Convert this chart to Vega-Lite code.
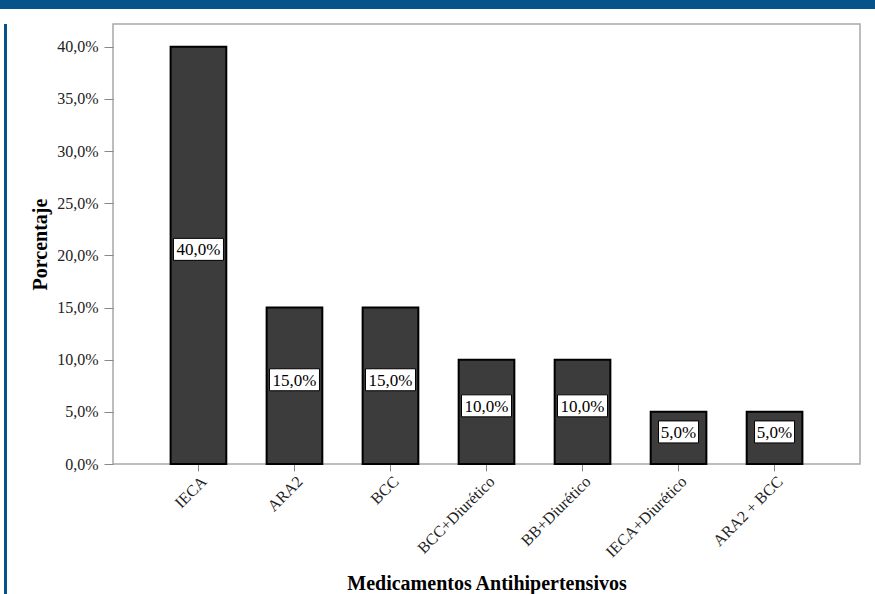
{
  "$schema": "https://vega.github.io/schema/vega-lite/v6.json",
  "padding": 0,
  "background": "white",
  "spacing": 0,
  "config": {
    "font": "Liberation Serif",
    "axis": {"labelFont": "Liberation Serif", "titleFont": "Liberation Serif"},
    "text": {"font": "Liberation Serif"},
    "locale": {"number": {"decimal": ",", "thousands": ".", "grouping": [3], "currency": ["", " €"]}},
    "view": {"stroke": null}
  },
  "vconcat": [
    {
      "width": 875,
      "height": 9,
      "view": {"fill": "#07528a", "stroke": null},
      "data": {"values": [{}]},
      "mark": {"type": "point", "opacity": 0, "size": 0},
      "encoding": {}
    },
    {
      "spacing": 22,
      "hconcat": [
        {
          "spacing": 0,
          "hconcat": [
            {
              "width": 4,
              "height": 585,
              "view": {"fill": "white", "stroke": null},
              "data": {"values": [{}]},
              "mark": {"type": "point", "opacity": 0, "size": 0},
              "encoding": {}
            },
            {
              "width": 3,
              "height": 585,
              "view": {"fill": "#07528a", "stroke": null},
              "data": {"values": [{}]},
              "mark": {"type": "point", "opacity": 0, "size": 0},
              "encoding": {}
            }
          ]
        },
        {
          "width": 747,
          "height": 440,
          "title": {"text": " ", "fontSize": 10, "offset": 4, "anchor": "start"},
          "view": {"stroke": "#a8a8a8", "strokeWidth": 1.5, "fill": "white"},
          "data": {
            "values": [
              {"med": "IECA", "value": 0.40},
              {"med": "ARA2", "value": 0.15},
              {"med": "BCC", "value": 0.15},
              {"med": "BCC+Diurético", "value": 0.10},
              {"med": "BB+Diurético", "value": 0.10},
              {"med": "IECA+Diurético", "value": 0.05},
              {"med": "ARA2 + BCC", "value": 0.05}
            ]
          },
          "encoding": {
            "x": {
              "field": "med",
              "type": "nominal",
              "sort": null,
              "title": "Medicamentos Antihipertensivos",
              "scale": {"paddingInner": 0.42, "paddingOuter": 0.6},
              "axis": {
                "labelAngle": -45,
                "labelFont": "Liberation Serif",
                "labelFontSize": 16,
                "labelColor": "#222",
                "labelPadding": 2,
                "tickSize": 7,
                "tickColor": "#888",
                "domain": false,
                "titleFont": "Liberation Serif",
                "titleFontSize": 20,
                "titleFontWeight": "bold",
                "titleColor": "black",
                "titlePadding": 14
              }
            }
          },
          "layer": [
            {
              "mark": {"type": "bar", "fill": "#3c3c3c", "stroke": "black", "strokeWidth": 2},
              "encoding": {
                "y": {
                  "field": "value",
                  "type": "quantitative",
                  "title": "Porcentaje",
                  "scale": {"domain": [0, 0.4218], "nice": false},
                  "axis": {
                    "values": [0, 0.05, 0.1, 0.15, 0.2, 0.25, 0.3, 0.35, 0.4],
                    "format": ".1%",
                    "grid": false,
                    "domain": false,
                    "tickSize": 9,
                    "tickColor": "#888",
                    "labelPadding": 6,
                    "labelFont": "Liberation Serif",
                    "labelFontSize": 16,
                    "labelColor": "#222",
                    "titleFont": "Liberation Serif",
                    "titleFontSize": 20,
                    "titleFontWeight": "bold",
                    "titleColor": "black",
                    "titlePadding": 6
                  }
                }
              }
            },
            {
              "transform": [{"calculate": "datum.value / 2", "as": "mid"}],
              "mark": {"type": "point", "filled": true, "fill": "white", "stroke": "black", "strokeWidth": 1, "opacity": 1, "yOffset": -6},
              "encoding": {
                "y": {"field": "mid", "type": "quantitative", "title": "Porcentaje"},
                "shape": {"condition": {"test": "datum.value < 0.1", "value": "M-1,-0.55H1V0.55H-1Z"}, "value": "M-1,-0.44H1V0.44H-1Z"},
                "size": {"condition": {"test": "datum.value < 0.1", "value": 1600}, "value": 2500}
              }
            },
            {
              "transform": [{"calculate": "datum.value / 2", "as": "mid"}],
              "mark": {"type": "text", "font": "Liberation Serif", "fontSize": 17, "color": "black", "baseline": "middle", "align": "center", "yOffset": -5},
              "encoding": {
                "y": {"field": "mid", "type": "quantitative", "title": "Porcentaje"},
                "text": {"field": "value", "type": "quantitative", "format": ".1%"}
              }
            }
          ]
        }
      ]
    }
  ]
}
